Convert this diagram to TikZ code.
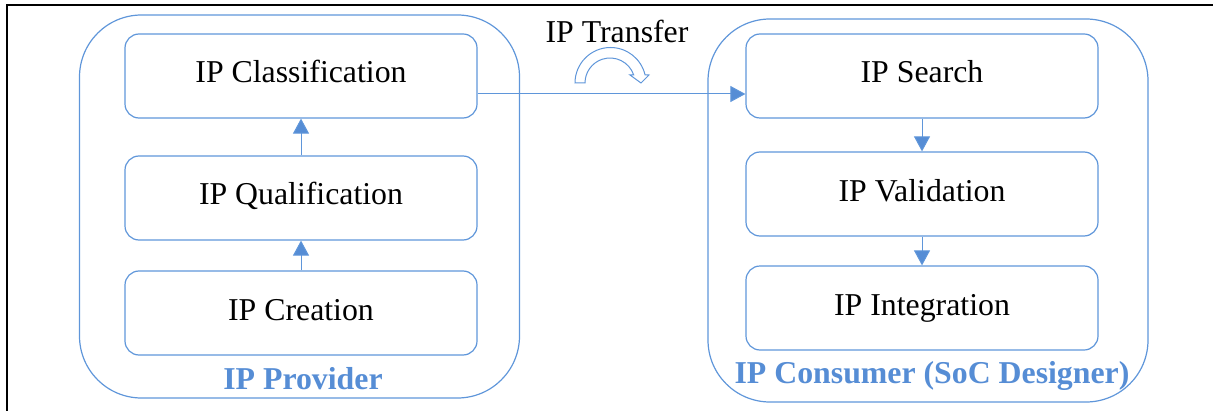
\documentclass[tikz,border=0pt]{standalone}
\usepackage{fontspec}
\setmainfont{Liberation Serif}
\usetikzlibrary{arrows.meta}
\definecolor{ipblue}{RGB}{86,141,213}
\definecolor{lineblue}{RGB}{95,150,218}
\tikzset{
  outerbox/.style={draw=lineblue, line width=0.6pt, rounded corners=31pt, minimum width=220pt, minimum height=191.5pt, inner sep=0pt},
  stepbox/.style={draw=lineblue, line width=0.6pt, rounded corners=7pt, minimum width=176pt, minimum height=42pt, inner sep=0pt,
    font=\fontsize{15.9}{19}\selectfont, text height=10pt, text depth=3pt},
  grouplabel/.style={text=ipblue, font=\fontsize{15.9}{19}\selectfont\bfseries, anchor=base, inner sep=0pt},
  arr/.style={draw=lineblue, line width=0.5pt, -{Triangle[width=8pt,length=7.5pt,fill=ipblue]}}
}
\begin{document}
\begin{tikzpicture}[x=0.5pt,y=-0.5pt]
\useasboundingbox (0,0) rectangle (1213,411);
% frame
\draw[line width=1.3pt] (7,411) -- (7,5) -- (1213,5);
% outer groups
\node[outerbox] (prov) at (299.5,206.5) {};
\node[outerbox] (cons) at (928,210.5) {};
% provider steps
\node[stepbox] (cls) at (301,76) {IP Classification};
\node[stepbox] (qual) at (301,198) {IP Qualification};
\node[stepbox] (crea) at (301,313) {IP Creation};
% consumer steps
\node[stepbox] (srch) at (922,76) {IP Search};
\node[stepbox] (vali) at (922,194) {IP Validation};
\node[stepbox] (integ) at (922,308) {IP Integration};
% labels
\node[grouplabel] (provlbl) at (303,389) {IP Provider};
\node[grouplabel] (conslbl) at (932,383) {IP Consumer (SoC Designer)};
\node[anchor=base, inner sep=0pt, font=\fontsize{15.9}{19}\selectfont] (xfer) at (617,43) {IP Transfer};
% connectors
\draw[arr] (crea.north) -- (qual.south);
\draw[arr] (qual.north) -- (cls.south);
\draw[arr] (srch.south) -- (vali.north);
\draw[arr] (vali.south) -- (integ.north);
\draw[arr] ([yshift=-9pt]cls.east) -- ([yshift=-9pt]srch.west);
% curved transfer arrow
\draw[draw=lineblue, fill=white, line width=0.5pt, line join=miter]
  (575,83) arc[start angle=180, end angle=346.8, radius=35.5]
  -- (649,75) -- (641,83) -- (630,75) -- (633.7,75)
  arc[start angle=341.34, end angle=180, radius=25] -- cycle;
\end{tikzpicture}
\end{document}
